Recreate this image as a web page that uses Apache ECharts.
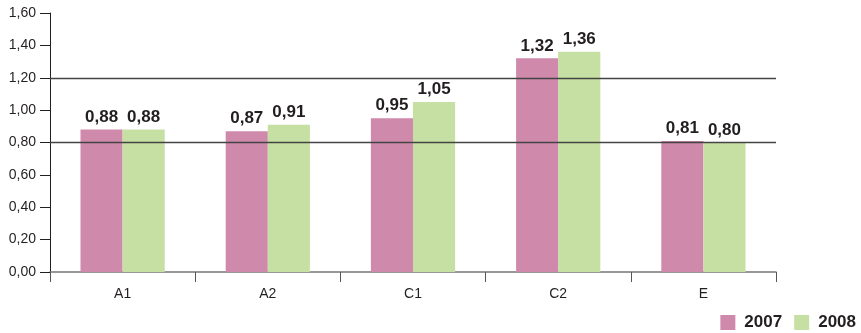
<!DOCTYPE html>
<html>
<head>
<meta charset="utf-8">
<script src="https://cdn.jsdelivr.net/npm/echarts@6/dist/echarts.min.js"></script>
<style>
  html, body { margin: 0; padding: 0; background: #fff; }
  #chart { width: 861px; height: 333px; }
</style>
</head>
<body>
<div id="chart"></div>
<script>
// Categories and yearly values
var categories = ['A1', 'A2', 'C1', 'C2', 'E'];
var values2007 = [0.88, 0.87, 0.95, 1.32, 0.81];
var values2008 = [0.88, 0.91, 1.05, 1.36, 0.80];
var seriesNames = ['2007', '2008'];
var referenceLevels = [0.8, 1.2];

function comma(v, digits) {
  return Number(v).toFixed(digits).replace('.', ',');
}

var chart = echarts.init(document.getElementById('chart'), null, { renderer: 'canvas' });

var labelStyle = {
  show: true,
  position: 'top',
  distance: 4,
  fontFamily: 'Liberation Sans, Arial, sans-serif',
  fontWeight: 'bold',
  fontSize: 17,
  color: '#231f20',
  formatter: function (p) { return comma(p.value, 2); }
};

chart.setOption({
  animation: false,
  grid: { left: 50, right: 85, top: 13, bottom: 61, containLabel: false },
  legend: {
    right: 0,
    top: 309,
    padding: [5, 5, 5, 5],
    itemWidth: 15,
    itemHeight: 15,
    itemGap: 12,
    icon: 'rect',
    textStyle: {
      fontFamily: 'Liberation Sans, Arial, sans-serif',
      fontWeight: 'bold',
      fontSize: 17,
      color: '#231f20',
      padding: [0, 0, 0, 4]
    },
    data: seriesNames
  },
  xAxis: {
    type: 'category',
    data: categories,
    axisLine: { lineStyle: { color: '#777', width: 1.5 } },
    axisTick: { show: true, length: 10, lineStyle: { color: '#555' } },
    axisLabel: {
      fontFamily: 'Liberation Sans, Arial, sans-serif',
      fontSize: 14,
      color: '#231f20',
      margin: 15
    }
  },
  yAxis: {
    type: 'value',
    min: 0,
    max: 1.6,
    interval: 0.2,
    axisLine: { show: true, lineStyle: { color: '#231f20', width: 1 } },
    axisTick: { show: true, length: 10, lineStyle: { color: '#231f20' } },
    splitLine: { show: false },
    axisLabel: {
      fontFamily: 'Liberation Sans, Arial, sans-serif',
      fontSize: 14,
      color: '#231f20',
      margin: 14,
      formatter: function (v) { return comma(v, 2); }
    }
  },
  series: [
    {
      name: seriesNames[0],
      type: 'bar',
      data: values2007,
      barWidth: '29%',
      barGap: '0%',
      itemStyle: { color: '#cf8aab' },
      label: labelStyle
    },
    {
      name: seriesNames[1],
      type: 'bar',
      data: values2008,
      barWidth: '29%',
      barGap: '0%',
      itemStyle: { color: '#c6dfa2' },
      label: labelStyle,
      markLine: {
        silent: true,
        symbol: 'none',
        z: 10,
        label: { show: false },
        lineStyle: { color: '#444', type: 'solid', width: 1.3 },
        data: referenceLevels.map(function (v) { return { yAxis: v }; })
      }
    }
  ]
});
</script>
</body>
</html>
